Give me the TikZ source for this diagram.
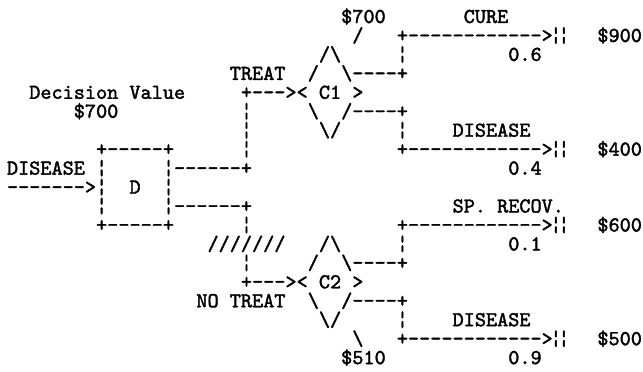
\documentclass[tikz,border=0pt]{standalone}
\usepackage{fontspec}
\newfontfamily\asciifont{lmmono10-regular.otf}[Ligatures=TeXOff,FakeBold=1.8]
\begin{document}
\begin{tikzpicture}[x=1pt,y=-1pt]
\useasboundingbox (0,0) rectangle (643,372);
\tikzset{txt/.style={anchor=base west, inner sep=0pt, outer sep=0pt,
  font=\asciifont\fontsize{21.2}{21.2}\selectfont\frenchspacing}}
\def\W{11.14}\def\XO{7}\def\YO{23}\def\H{18.95}
\newcommand\tx[4]{\node[txt] (#1) at ({\XO+#2*\W},{\YO+(#3-1)*\H}) {#4};}
\newcommand\dbar[2]{%
  \node[txt,anchor=base] (#1a) at ({\XO+49.5*\W-2.5},{\YO+(#2-1)*\H}) {¦};
  \node[txt,anchor=base] (#1b) at ({\XO+49.5*\W+5.5},{\YO+(#2-1)*\H}) {¦};}
% row 1
\tx{v1}{30}{1}{\$700}
\tx{cure}{41}{1}{CURE}
% row 2
\tx{s1}{31}{2}{/}
\tx{a1}{35}{2}{+------------>}
\dbar{e1}{2}
\tx{p1}{53}{2}{\$900}
% row 3
\tx{d1t}{28}{3}{/\textbackslash}
\tx{b1}{35}{3}{¦}
\tx{q1}{45}{3}{0.6}
% row 4
\tx{treat}{20}{4}{TREAT}
\tx{d1l}{27}{4}{/}
\tx{d1r}{30}{4}{\textbackslash----+}
% row 5
\tx{dv}{2}{5}{Decision Value}
\tx{a2}{21}{5}{+---><}
\tx{c1}{28}{5}{C1}
\tx{d1g}{31}{5}{>}
% row 6
\tx{dvv}{6}{6}{\$700}
\tx{b2}{21}{6}{¦}
\tx{d1l2}{27}{6}{\textbackslash}
\tx{d1r2}{30}{6}{/----+}
% row 7
\tx{b3}{21}{7}{¦}
\tx{d1b}{28}{7}{\textbackslash/}
\tx{b4}{35}{7}{¦}
\tx{dis1}{40}{7}{DISEASE}
% row 8
\tx{boxt}{8}{8}{+-----+}
\tx{b5}{21}{8}{¦}
\tx{a3}{35}{8}{+------------>}
\dbar{e2}{8}
\tx{p2}{53}{8}{\$400}
% row 9
\tx{dis0}{0}{9}{DISEASE}
\tx{bl1}{8}{9}{¦}
\tx{br1}{14}{9}{¦------+}
\tx{q2}{45}{9}{0.4}
% row 10
\tx{in}{0}{10}{------->¦}
\tx{D}{11}{10}{D}
\tx{br2}{14}{10}{¦}
% row 11
\tx{bl3}{8}{11}{¦}
\tx{br3}{14}{11}{¦------+}
\tx{sp}{40}{11}{SP. RECOV.}
% row 12
\tx{boxb}{8}{12}{+-----+}
\tx{b6}{21}{12}{¦}
\tx{a4}{35}{12}{+------------>}
\dbar{e3}{12}
\tx{p3}{53}{12}{\$600}
% row 13
\tx{hatch}{18}{13}{///////}
\tx{d2t}{28}{13}{/\textbackslash}
\tx{b7}{35}{13}{¦}
\tx{q3}{45}{13}{0.1}
% row 14
\tx{b8}{21}{14}{¦}
\tx{d2l}{27}{14}{/}
\tx{d2r}{30}{14}{\textbackslash----+}
% row 15
\tx{a5}{21}{15}{+---><}
\tx{c2}{28}{15}{C2}
\tx{d2g}{31}{15}{>}
% row 16
\tx{nt}{17}{16}{NO TREAT}
\tx{d2l2}{27}{16}{\textbackslash}
\tx{d2r2}{30}{16}{/----+}
% row 17
\tx{d2b}{28}{17}{\textbackslash/}
\tx{b9}{35}{17}{¦}
\tx{dis2}{40}{17}{DISEASE}
% row 18
\tx{s2}{31}{18}{\textbackslash}
\tx{a6}{35}{18}{+------------>}
\dbar{e4}{18}
\tx{p4}{53}{18}{\$500}
% row 19
\tx{v2}{30}{19}{\$510}
\tx{q4}{45}{19}{0.9}
\end{tikzpicture}
\end{document}
